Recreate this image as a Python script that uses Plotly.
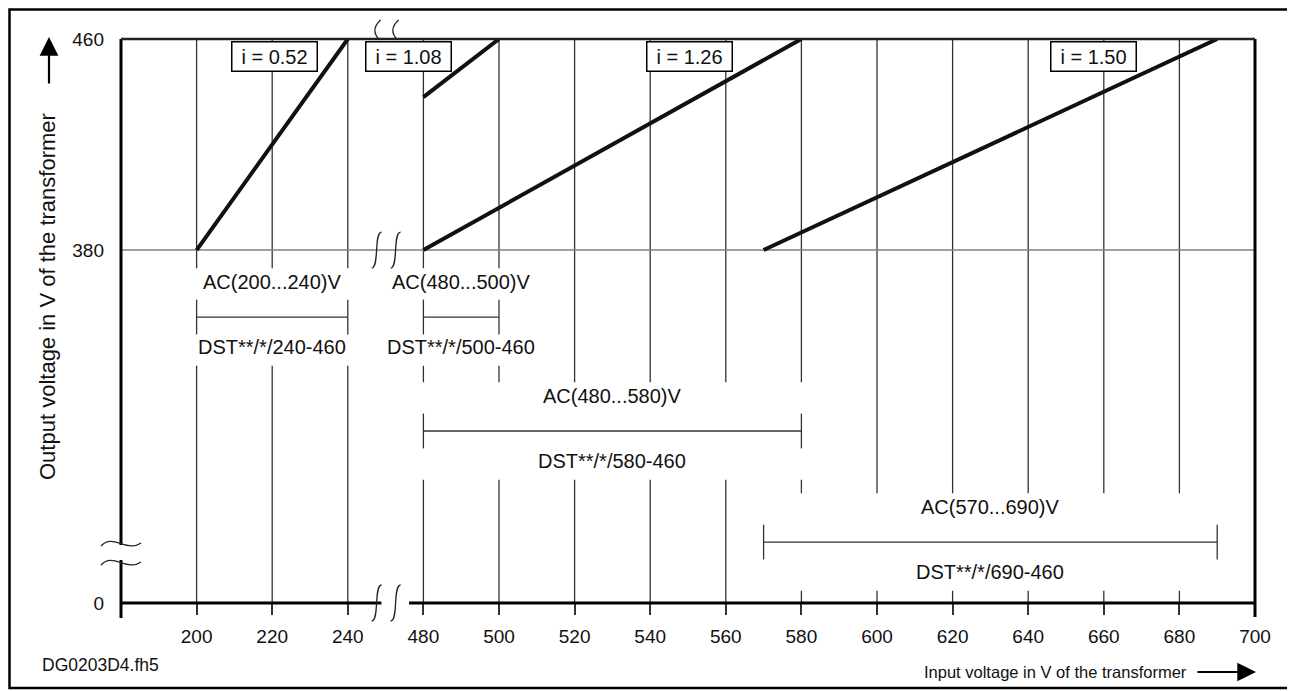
import plotly.graph_objects as go

# characteristic curves: input voltage (V) -> output voltage (V)
curve_labels = ["i = 0.52", "i = 1.08", "i = 1.26", "i = 1.50"]
u_in_start = [200, 480, 480, 570]
u_in_end = [240, 500, 580, 690]
u_out_start = [380, 438, 380, 380]
u_out_end = [460, 460, 460, 460]

# permitted input ranges and matching transformer types
range_labels = ["AC(200...240)V", "AC(480...500)V", "AC(480...580)V", "AC(570...690)V"]
type_labels = ["DST**/*/240-460", "DST**/*/500-460", "DST**/*/580-460", "DST**/*/690-460"]
range_lo = [200, 480, 480, 570]
range_hi = [240, 500, 580, 690]

x_ticks = [200, 220, 240, 480, 500, 520, 540, 560, 580, 600, 620, 640, 660, 680, 700]
y_ticks = [0, 380, 460]

# both axes are broken: 250..470 V is cut from x, 0..380 V is squeezed on y
X_GAP = 220
Y_ZERO = 246.2
X_RANGE = [180, 480]
Y_RANGE = [Y_ZERO, 460]

# the page body keeps its default 8px margin, so the figure is that much smaller
PAGE = 8
W, H = 1295 - PAGE, 691 - PAGE
MARGIN = dict(l=121 - PAGE, r=40, t=39 - PAGE, b=88)
PW = W - MARGIN["l"] - MARGIN["r"]
PH = H - MARGIN["t"] - MARGIN["b"]
X0_PX, Y0_PX = 121, 603  # page position of the axes corner

FONT = "Liberation Sans, Arial, sans-serif"
INK = "#111111"


def bx(v):
    return v if v < 300 else v - X_GAP


def by(v):
    return v if v >= 380 else Y_ZERO + v


def xp(v):
    return (v - X_RANGE[0]) / (X_RANGE[1] - X_RANGE[0])


def yp(v):
    return (v - Y_RANGE[0]) / (Y_RANGE[1] - Y_RANGE[0])


def px(x):
    return (x - X0_PX) / PW


def py(y):
    return (Y0_PX - y) / PH


# layout positions of the boxed ratio labels and the range bars
label_x = [220.7, 256.0, 330.5, 437.4]
label_y = 453.4
dim_y = [354.6, 354.6, 311.4, 269.3]

fig = go.Figure()

for a, b, c, d in zip(u_in_start, u_in_end, u_out_start, u_out_end):
    fig.add_trace(go.Scatter(
        x=[bx(a), bx(b)], y=[by(c), by(d)], mode="lines",
        line=dict(color="#111111", width=4), showlegend=False, hoverinfo="skip",
    ))

shapes = []
# vertical grid
for t in x_ticks[:-1]:
    shapes.append(dict(type="line", xref="x", yref="y", x0=bx(t), x1=bx(t),
                       y0=Y_ZERO, y1=460, layer="below",
                       line=dict(color="#333333", width=1.3)))
# 380 V line
shapes.append(dict(type="line", xref="x", yref="y", x0=X_RANGE[0], x1=X_RANGE[1],
                   y0=380, y1=380, layer="below", line=dict(color="#808080", width=1.6)))
# white boxes behind the range labels
for lo, hi, dy in zip(range_lo, range_hi, dim_y):
    shapes.append(dict(type="rect", xref="x", yref="y", x0=bx(lo) - 3, x1=bx(hi) + 3,
                       y0=dy - 18.5, y1=dy + 18.5, fillcolor="white",
                       line=dict(width=0), layer="below"))
# range bars
for lo, hi, dy in zip(range_lo, range_hi, dim_y):
    bar = dict(color="#333333", width=1.3)
    shapes.append(dict(type="line", xref="x", yref="y", x0=bx(lo), x1=bx(hi),
                       y0=dy, y1=dy, layer="below", line=bar))
    for v in (lo, hi):
        shapes.append(dict(type="line", xref="x", yref="y", x0=bx(v), x1=bx(v),
                           y0=dy - 6.6, y1=dy + 6.6, layer="below", line=bar))

# axis lines (drawn by hand because they are broken)
axis = dict(color="black", width=3)
gap_l, gap_r = xp(248.9), xp(256.2)
shapes += [
    dict(type="line", xref="paper", yref="paper", x0=0, x1=0, y0=1, y1=py(545), line=axis),
    dict(type="line", xref="paper", yref="paper", x0=0, x1=0, y0=py(560), y1=py(618), line=axis),
    dict(type="line", xref="paper", yref="paper", x0=0, x1=gap_l, y0=0, y1=0, line=axis),
    dict(type="line", xref="paper", yref="paper", x0=gap_r, x1=1, y0=0, y1=0, line=axis),
    dict(type="line", xref="paper", yref="paper", x0=1, x1=1, y0=py(617), y1=1, line=axis),
    dict(type="line", xref="paper", yref="paper", x0=0, x1=1, y0=1, y1=1,
         line=dict(color="#222222", width=2.5)),
]

# break marks
brk = dict(color="#222222", width=1.3)
cut = xp(250)


def mark(path, xa, ya):
    return dict(type="path", xref="paper", yref="paper", xsizemode="pixel",
                ysizemode="pixel", xanchor=xa, yanchor=ya, path=path, line=brk)


for dx in (-9, 10):
    s = f"M {dx + 5},18 C {dx - 3},18 {dx + 3},-18 {dx - 5},-18"
    shapes.append(mark(s, cut, yp(380)))
    shapes.append(mark(s, cut, 0))
for dx in (-5, 13):
    shapes.append(mark(f"M {dx},19 Q {dx - 11},9 {dx - 1},-1", cut, 1))
for y in (543, 562):
    shapes.append(mark("M -20,-3 C -8,10 6,-10 20,0", 0, py(y)))

# outer frame
shapes.append(dict(type="rect", xref="paper", yref="paper",
                   x0=px(9.5), x1=px(1293), y0=py(688), y1=py(9.5),
                   line=dict(color="black", width=2.5)))

annotations = []
for text, lx in zip(curve_labels, label_x):
    annotations.append(dict(x=lx, y=label_y, xref="x", yref="y", text=text,
                            showarrow=False, bgcolor="white", bordercolor="black",
                            borderwidth=1.5, borderpad=2, width=80, height=24,
                            font=dict(size=20, color=INK)))
for rl, tl, lo, hi, dy in zip(range_labels, type_labels, range_lo, range_hi, dim_y):
    mid = (bx(lo) + bx(hi)) / 2
    annotations.append(dict(x=mid, y=dy, xref="x", yref="y", text=rl, yshift=35,
                            showarrow=False, font=dict(size=20, color=INK)))
    annotations.append(dict(x=mid, y=dy, xref="x", yref="y", text=tl, yshift=-30,
                            showarrow=False, font=dict(size=20, color=INK)))

# axis titles with arrows
annotations += [
    dict(x=px(47), y=py(297), xref="paper", yref="paper", xanchor="center",
         yanchor="middle", textangle=-90, text="Output voltage in V of the transformer",
         showarrow=False, font=dict(size=22, color=INK)),
    dict(x=px(49), y=py(37), xref="paper", yref="paper", text="",
         showarrow=True, ax=0, ay=48, arrowhead=2, arrowsize=1.7, arrowwidth=2.2,
         arrowcolor="black"),
    dict(x=px(1055), y=py(672), xref="paper", yref="paper", xanchor="center",
         yanchor="middle", text="Input voltage in V of the transformer",
         showarrow=False, font=dict(size=16.5, color=INK)),
    dict(x=px(1256), y=py(672), xref="paper", yref="paper", text="",
         showarrow=True, ax=-60, ay=0, arrowhead=2, arrowsize=1.7, arrowwidth=2.2,
         arrowcolor="black"),
    dict(x=px(40), y=py(665), xref="paper", yref="paper", xanchor="left",
         yanchor="middle", text="DG0203D4.fh5", showarrow=False,
         font=dict(size=17.5, color=INK)),
]

fig.update_xaxes(
    range=X_RANGE, tickvals=[bx(t) for t in x_ticks], ticktext=[str(t) for t in x_ticks],
    ticks="outside", ticklen=11, tickwidth=1.5, tickcolor="#333333", ticklabelstandoff=5,
    showgrid=False, zeroline=False, showline=False,
    tickfont=dict(size=19, color=INK),
)
fig.update_yaxes(
    range=Y_RANGE, tickvals=[by(t) for t in y_ticks], ticktext=[str(t) for t in y_ticks],
    ticks="", ticklabelstandoff=16, showgrid=False, zeroline=False, showline=False,
    tickfont=dict(size=19, color=INK),
)
fig.update_layout(
    width=W, height=H, margin=MARGIN, plot_bgcolor="white", paper_bgcolor="white",
    font=dict(family=FONT), shapes=shapes, annotations=annotations, showlegend=False,
)

fig.write_html("out.html")
